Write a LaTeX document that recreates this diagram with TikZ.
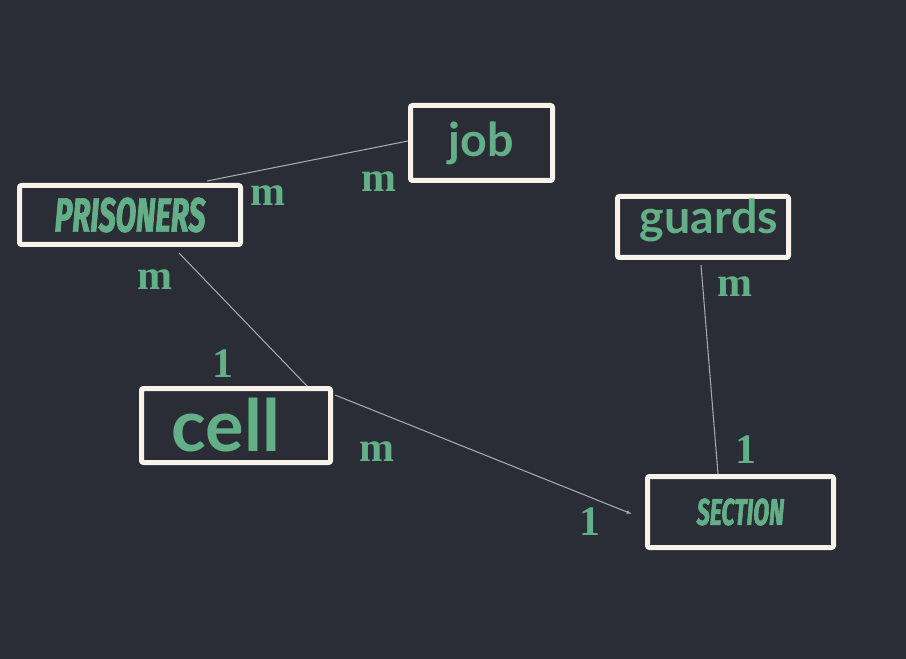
\documentclass[tikz,border=0pt]{standalone}
\usepackage{fontspec}
\usepackage{graphicx}
\usetikzlibrary{calc, arrows.meta}

\newfontfamily\cardfont{Liberation Serif}
\newfontfamily\titlefont{Lato}
\newfontfamily\comicfont[FakeStretch=0.62, FakeBold=1.5]{Fira Sans}

\definecolor{bg}{HTML}{2A2D36}
\definecolor{boxline}{HTML}{F7F2EA}
\definecolor{ink}{HTML}{63AF88}
\definecolor{wire}{HTML}{A8A8A8}

\begin{document}
\begin{tikzpicture}[x=0.75pt, y=-0.75pt, semithick]
  \tikzstyle{entity}=[draw=boxline, line width=3.75pt, rounded corners=1.5pt, fill=bg, text=ink, inner sep=0pt]
  \tikzstyle{card}=[text=ink, inner sep=0pt, font=\cardfont\bfseries\fontsize{31.5}{32}\selectfont]
  \tikzstyle{link}=[draw=wire, line width=0.8pt]

  \fill[bg] (0,0) rectangle (906,659);

  % Boxes
  \node[entity, minimum width=165.75pt, minimum height=44.25pt,
    font=\comicfont\bfseries\itshape\fontsize{36}{37}\selectfont] (prisoners) at (130,215) {PRISONERS};
  \node[entity, minimum width=106.5pt, minimum height=56.25pt,
    font=\titlefont\bfseries\fontsize{35}{36}\selectfont] (job) at (481.5,143) {job};
  \node[entity, minimum width=128.25pt, minimum height=45.75pt, text depth=15.75pt,
    font=\titlefont\bfseries\fontsize{35}{36}\selectfont] (guards) at (703,227) {\kern9pt guards};
  \node[entity, minimum width=141.75pt, minimum height=55.5pt,
    font=\titlefont\bfseries\fontsize{54}{55}\selectfont] (cell) at (236,425.5) {cell\kern15pt};
  \node[entity, minimum width=139.5pt, minimum height=53.25pt,
    font=\comicfont\bfseries\itshape\fontsize{28}{29}\selectfont] (section) at (740.5,512) {SECTION};

  % Links
  \draw[link] ($(prisoners.north)+(77,-2)$) -- ($(job.west)+(0,-2)$);
  \draw[link] ($(prisoners.south)+(49,6)$) -- ($(cell.north)+(71,0)$);
  \draw[link, -{Latex[length=4pt, width=3pt]}] ($(cell.north east)+(2,9)$) -- ($(section.west)+(-13,2)$);
  \draw[link] ($(guards.south)+(-2,5)$) -- ($(section.north)+(-22.5,0)$);

  % Cardinalities
  \node[card] (prisjob) at (268,196) {m};
  \node[card] (jobpris) at (379,182) {m};
  \node[card] (priscell) at (155,280) {m};
  \node[card] (cellpris) at (223,363.5) {1};
  \node[card] (cellsec) at (376.5,452) {m};
  \node[card] (seccell) at (590,521.5) {1};
  \node[card] (guardsec) at (735,287) {m};
  \node[card] (secguard) at (746,450) {1};

\end{tikzpicture}
\end{document}
